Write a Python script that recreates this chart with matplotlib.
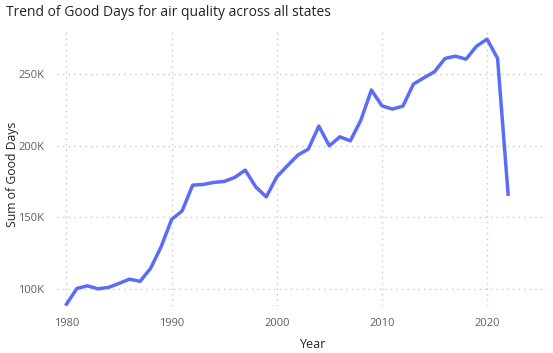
import matplotlib.pyplot as plt
from matplotlib.ticker import FuncFormatter

years = list(range(1980, 2023))
good_days = [89.3, 100.3, 102.1, 100.0, 101.0, 103.8, 106.8, 105.2, 114.3, 129.4,
             148.5, 154.5, 172.5, 173.0, 174.4, 175.1, 177.9, 183.0, 171.3, 164.3,
             178.3, 186.0, 193.5, 197.7, 213.8, 200.0, 206.3, 203.5, 218.0, 239.0,
             228.0, 225.7, 227.8, 243.2, 247.6, 251.8, 261.1, 262.7, 260.6, 269.7,
             274.6, 261.1, 166.2]
good_days = [v * 1000 for v in good_days]

plt.rcParams['font.family'] = ['Open Sans', 'DejaVu Sans']

fig = plt.figure(figsize=(5.53, 3.53), dpi=100)
ax = fig.add_axes([57 / 553, 1 - 306 / 353, (547 - 57) / 553, (306 - 30) / 353])

ax.plot(years, good_days, color='#5B6CF9', linewidth=2.5, solid_joinstyle='round')

ax.set_xlim(1979.1, 2025.7)
ax.set_ylim(88000, 281000)
ax.set_xticks([1980, 1990, 2000, 2010, 2020])
ax.set_yticks([100000, 150000, 200000, 250000])
ax.yaxis.set_major_formatter(FuncFormatter(lambda v, p: f'{int(v / 1000)}K'))

ax.grid(True, color='#C8C8C8', linestyle=(0, (1, 3)), linewidth=1)
for s in ax.spines.values():
    s.set_visible(False)
ax.tick_params(length=0, labelsize=8, colors='#605E5C', pad=9)

ax.set_xlabel('Year', fontsize=9, color='#252423')
ax.xaxis.set_label_coords((313 - 57) / 490, -(344 - 306) / 276)
ax.xaxis.label.set_va('center')
ax.set_ylabel('Sum of Good Days', fontsize=8.8, color='#252423')
ax.yaxis.set_label_coords((13 - 57) / 490, (306 - 174) / 276)
ax.yaxis.label.set_va('center')
fig.text(6 / 553, 1 - 12 / 353, 'Trend of Good Days for air quality across all states',
         fontsize=10, color='#252423', va='center', ha='left')

fig.savefig('out.png', dpi=100)
